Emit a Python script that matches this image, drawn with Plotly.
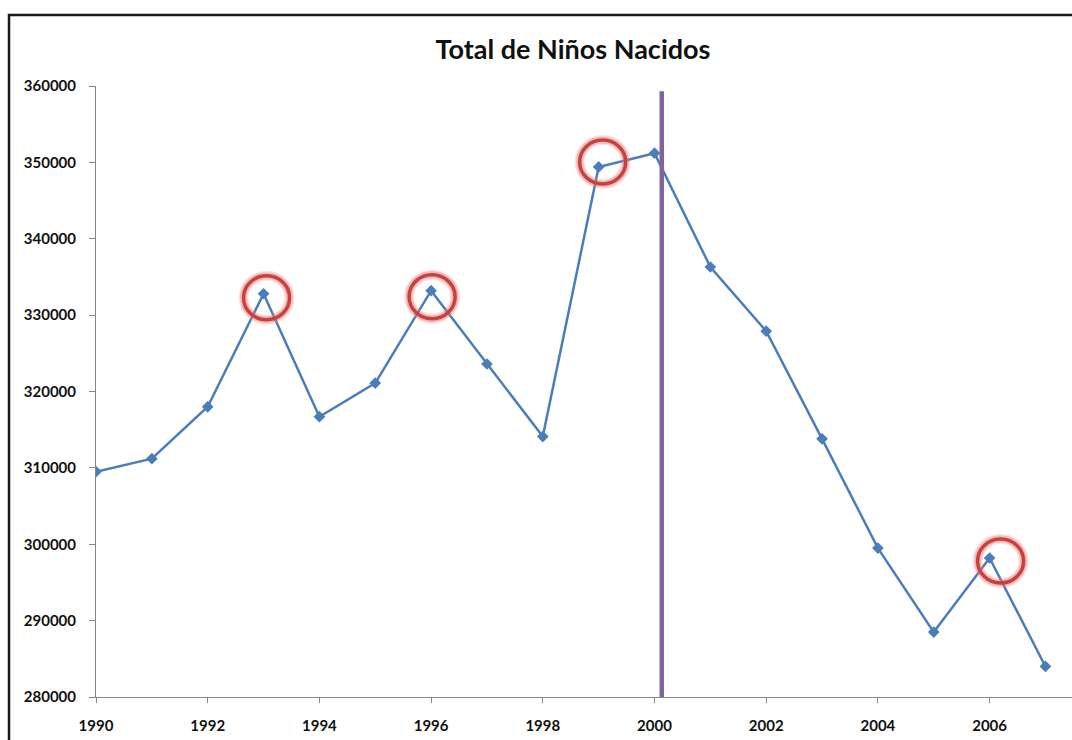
import plotly.graph_objects as go

years = list(range(1990, 2008))
births = [309500, 311200, 318000, 332800, 316700, 321100, 333200, 323600, 314100,
          349400, 351200, 336300, 327900, 313800, 299500, 288500, 298200, 284000]
highlight_years = [1993, 1996, 1999, 2006]
marker_line_x = 2000.13
marker_line_top = 359300
y_ticks = list(range(280000, 360001, 10000))
x_ticks = list(range(1990, 2007, 2))
title_text = "Total de Niños Nacidos"

# pixel offsets of the hand-drawn rings relative to their points
ring_offsets = {1993: (3, -4), 1996: (1, -6), 1999: (4, 5), 2006: (11, -3)}

W, H = 1072, 740
L, T, B = 96, 86, 43
R = 0
pw, ph = W - L - R, H - T - B

FONT = "Lato"
fig = go.Figure()
fig.add_trace(go.Scatter(
    x=years, y=births, mode="lines+markers",
    line=dict(color="#4A7EBB", width=2.5),
    marker=dict(symbol="diamond", size=9, color="#4A7EBB"),
    showlegend=False, hoverinfo="x+y"))

shapes = []
# purple vertical line
shapes.append(dict(type="line", xref="x", yref="y", x0=marker_line_x, x1=marker_line_x,
                   y0=y_ticks[0], y1=marker_line_top,
                   line=dict(color="#8064A2", width=4.5), layer="above"))
# highlight rings
val = dict(zip(years, births))
for yr in highlight_years:
    dx, dy = ring_offsets[yr]
    for w, col in [(10, "rgba(235,140,140,0.25)"), (7, "rgba(225,110,110,0.35)"), (3.5, "#C8413E")]:
        shapes.append(dict(type="circle", xref="x", yref="y", xsizemode="pixel", ysizemode="pixel",
                           xanchor=yr, yanchor=val[yr],
                           x0=dx - 23, x1=dx + 23, y0=dy - 22, y1=dy + 22,
                           line=dict(color=col, width=w), layer="above"))
# outer chart border
bx0 = (9 - L) / pw
by1 = 1 + (T - 15) / ph
shapes.append(dict(type="rect", xref="paper", yref="paper", x0=bx0, x1=1.2, y0=-0.3, y1=by1,
                   line=dict(color="#1a1a1a", width=2.5), layer="below"))

fig.update_layout(
    width=W, height=H,
    margin=dict(l=L, r=R, t=T, b=B, pad=0),
    paper_bgcolor="white", plot_bgcolor="white",
    shapes=shapes,
    title=dict(text="<b>" + title_text + "</b>", x=(573 - L) / pw, xref="paper", xanchor="center",
               y=1 - 50 / H, yanchor="middle", yref="container",
               font=dict(family=FONT, size=27, color="#111")),
    xaxis=dict(range=[1990, 1990 + pw / 55.85], tickmode="array", tickvals=x_ticks,
               showgrid=False, zeroline=False, showline=True, linecolor="#868686", linewidth=1,
               ticks="outside", ticklen=5, tickcolor="#868686", ticklabelstandoff=10,
               tickfont=dict(family=FONT, size=15, color="#111", weight="bold")),
    yaxis=dict(range=[280000, 360000], tickmode="array", tickvals=y_ticks,
               tickformat="d",
               showgrid=False, zeroline=False, showline=True, linecolor="#868686", linewidth=1,
               ticks="outside", ticklen=6, tickcolor="#868686", ticklabelstandoff=10,
               tickfont=dict(family=FONT, size=15, color="#111", weight="bold")),
)

fig.write_html("out.html", config={"displayModeBar": False},
               post_script="document.body.style.margin='0';document.body.style.overflow='hidden';")
